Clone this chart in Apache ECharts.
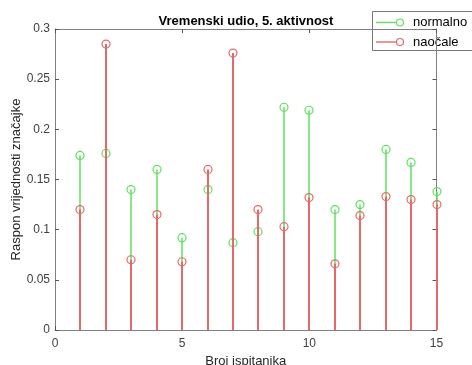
<!DOCTYPE html>
<html>
<head>
<meta charset="utf-8">
<script src="https://cdn.jsdelivr.net/npm/echarts@6/dist/echarts.min.js"></script>
<style>
  html, body { margin: 0; padding: 0; background: #ffffff; }
  #chart { width: 472px; height: 365px; }
</style>
</head>
<body>
<div id="chart"></div>
<script>
// Participants 1..15 and the value range of the feature per condition
const participants = [1, 2, 3, 4, 5, 6, 7, 8, 9, 10, 11, 12, 13, 14, 15];
const normalno = [0.174, 0.176, 0.140, 0.160, 0.092, 0.140, 0.087, 0.098, 0.222, 0.219, 0.120, 0.125, 0.180, 0.167, 0.138];
const naocale  = [0.120, 0.285, 0.070, 0.115, 0.068, 0.160, 0.276, 0.120, 0.103, 0.132, 0.066, 0.114, 0.133, 0.130, 0.125];
const xTicks = [0, 5, 10, 15];
const yTicks = [0, 0.05, 0.1, 0.15, 0.2, 0.25, 0.3];
const seriesNames = ['normalno', 'naočale'];

const GREEN = '#5ee05e';
const RED = '#e46a6a';
const AXIS = '#808080';
const FONT = '"Liberation Sans", Arial, Helvetica, sans-serif';

// Stem plot: a vertical line from zero up to the value, with an open circle on top
function stemRenderer(color, width) {
  return function (params, api) {
    const x = api.value(0);
    const y = api.value(1);
    const base = api.coord([x, 0]);
    const top = api.coord([x, y]);
    const px = Math.round(base[0]); // whole-pixel centre so overlapping stems cover each other
    return {
      type: 'group',
      children: [
        {
          type: 'line',
          shape: { x1: px, y1: base[1], x2: px, y2: top[1] },
          style: { stroke: color, lineWidth: width }
        },
        {
          type: 'circle',
          shape: { cx: px, cy: top[1], r: 4 },
          style: { fill: 'none', stroke: color, lineWidth: 1.2 }
        }
      ]
    };
  };
}

const xStep = xTicks[1] - xTicks[0];
const yStep = yTicks[1] - yTicks[0];

const baseAxis = {
  axisLine: { show: true, onZero: false, lineStyle: { color: AXIS, width: 1 } },
  axisTick: { show: true, inside: true, length: 4, lineStyle: { color: '#555' } },
  splitLine: { show: false }
};

const chart = echarts.init(document.getElementById('chart'), null, { renderer: 'canvas' });

// Legend box: sample stem (line ending in a circle) followed by the series name
const legendX = 372, legendY = 11, rowH = 19.5;
const legendItems = [];
seriesNames.forEach((name, i) => {
  const color = i === 0 ? GREEN : RED;
  const cy = legendY + 11.5 + i * rowH;
  legendItems.push(
    { type: 'line', shape: { x1: legendX + 4, y1: cy, x2: legendX + 24, y2: cy }, style: { stroke: color, lineWidth: 1.4 } },
    { type: 'circle', shape: { cx: legendX + 28, cy: cy, r: 3.5 }, style: { fill: 'none', stroke: color, lineWidth: 1.2 } },
    { type: 'text', x: legendX + 41, y: cy, style: { text: name, fontFamily: FONT, fontSize: 13, fill: '#000', verticalAlign: 'middle' } }
  );
});

chart.setOption({
  animation: false,
  backgroundColor: '#ffffff',
  title: {
    text: 'Vremenski udio, 5. aktivnost',
    left: 241,
    top: 10,
    textAlign: 'center',
    textStyle: { fontFamily: FONT, fontSize: 13, fontWeight: 'bold', color: '#000' }
  },
  grid: { left: 55, right: 35.5, top: 29, bottom: 35, containLabel: false, outerBoundsMode: 'none' },
  xAxis: [
    Object.assign({}, baseAxis, {
      type: 'value',
      position: 'bottom',
      min: xTicks[0],
      max: xTicks[xTicks.length - 1],
      interval: xStep,
      name: 'Broj ispitanika',
      nameLocation: 'middle',
      nameGap: 25,
      nameMoveOverlap: false,
      nameTextStyle: { fontFamily: FONT, fontSize: 13, color: '#262626' },
      axisLabel: { fontFamily: FONT, fontSize: 12, color: '#404040', margin: 8 }
    }),
    Object.assign({}, baseAxis, {
      type: 'value',
      position: 'top',
      min: xTicks[0],
      max: xTicks[xTicks.length - 1],
      interval: xStep,
      axisLabel: { show: false }
    })
  ],
  yAxis: [
    Object.assign({}, baseAxis, {
      type: 'value',
      position: 'left',
      min: yTicks[0],
      max: yTicks[yTicks.length - 1],
      interval: yStep,
      name: 'Raspon vrijednosti značajke',
      nameLocation: 'middle',
      nameRotate: 90,
      nameGap: 32,
      nameMoveOverlap: false,
      nameTextStyle: { fontFamily: FONT, fontSize: 13, color: '#262626' },
      axisLabel: { fontFamily: FONT, fontSize: 12, color: '#404040', margin: 5 }
    }),
    Object.assign({}, baseAxis, {
      type: 'value',
      position: 'right',
      min: yTicks[0],
      max: yTicks[yTicks.length - 1],
      interval: yStep,
      axisLabel: { show: false }
    })
  ],
  graphic: [
    {
      type: 'group',
      z: 100,
      children: [
        { type: 'rect', shape: { x: legendX + 0.5, y: legendY + 0.5, width: 110, height: 39 }, style: { fill: '#ffffff', stroke: '#7a7a7a', lineWidth: 1 } }
      ].concat(legendItems)
    }
  ],
  series: [
    {
      name: seriesNames[0],
      type: 'custom',
      clip: false,
      itemStyle: { color: GREEN },
      renderItem: stemRenderer(GREEN, 1.5),
      data: participants.map((p, i) => [p, normalno[i]])
    },
    {
      name: seriesNames[1],
      type: 'custom',
      clip: false,
      itemStyle: { color: RED },
      renderItem: stemRenderer(RED, 2),
      data: participants.map((p, i) => [p, naocale[i]])
    }
  ]
});
</script>
</body>
</html>
